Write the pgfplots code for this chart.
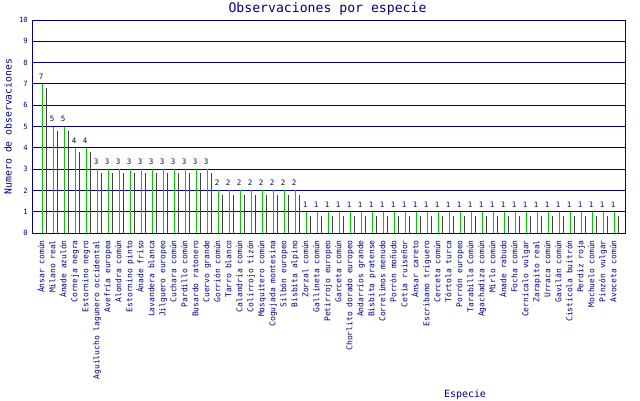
\documentclass[border=0pt]{standalone}
\usepackage{fontspec}
\setmonofont{DejaVu Sans Mono}
\usepackage{pgfplots}
\pgfplotsset{compat=1.18}
\definecolor{navy}{RGB}{0,0,128}
\definecolor{bargreen}{RGB}{0,204,0}
\definecolor{shadow}{RGB}{64,64,64}
\begin{document}
\begin{tikzpicture}[x=1bp,y=1bp]
\path[use as bounding box] (0,0) rectangle (640,400);
\begin{axis}[
  at={(32bp,167bp)}, anchor=south west,
  scale only axis, width=593bp, height=213bp,
  xmin=-0.94, xmax=52.97, ymin=0, ymax=10,
  ytick={0,1,2,3,4,5,6,7,8,9,10},
  xtick={0,...,52},
  xticklabels={Ánsar común,Milano real,Ánade azulón,Corneja negra,Estornino negro,Aguilucho lagunero occidental,Avefría europea,Alondra común,Estornino pinto,Ánade friso,Lavandera blanca,Jilguero europeo,Cuchara común,Pardillo común,Busardo ratonero,Cuervo grande,Gorrión común,Tarro blanco,Calandria común,Colirrojo tizón,Mosquitero común,Cogujada montesina,Silbón europeo,Bisbita alpino,Zorzal común,Gallineta común,Petirrojo europeo,Garceta común,Chorlito dorado europeo,Andarríos grande,Bisbita pratense,Correlimos menudo,Porrón moñudo,Cetia ruiseñor,Ánsar careto,Escribano triguero,Cerceta común,Tórtola turca,Porrón europeo,Tarabilla Común,Agachadiza común,Mirlo común,Ánade rabudo,Focha común,Cernícalo vulgar,Zarapito real,Urraca común,Gavilán común,Cistícola buitrón,Perdiz roja,Mochuelo común,Pinzón vulgar,Avoceta común},
  major tick length=0pt,
  axis line style={navy, line width=0.9bp},
  ymajorgrids, grid style={navy, line width=0.9bp},
  /pgf/number format/assume math mode=true,
  yticklabel style={font=\ttfamily\fontsize{7.2}{8}\selectfont, text=navy, anchor=east, inner sep=0pt},
  yticklabel shift=4bp,
  xticklabel style={font=\ttfamily\fontsize{8}{9}\selectfont, text=navy, rotate=90, anchor=mid east, inner sep=0pt},
  xticklabel shift=7bp,
  clip=true,
]
\addplot[ycomb, shadow, line width=1bp, mark=none, xshift=4bp, yshift=-4.3bp] coordinates {
(0,7)(1,5)(2,5)(3,4)(4,4)(5,3)(6,3)(7,3)(8,3)(9,3)(10,3)(11,3)(12,3)(13,3)(14,3)(15,3)
(16,2)(17,2)(18,2)(19,2)(20,2)(21,2)(22,2)(23,2)
(24,1)(25,1)(26,1)(27,1)(28,1)(29,1)(30,1)(31,1)(32,1)(33,1)(34,1)(35,1)(36,1)(37,1)(38,1)(39,1)(40,1)(41,1)(42,1)(43,1)(44,1)(45,1)(46,1)(47,1)(48,1)(49,1)(50,1)(51,1)(52,1)};
\addplot[ycomb, bargreen, line width=1bp, mark=none,
  nodes near coords,
  every node near coord/.append style={font=\ttfamily\fontsize{7.5}{8}\selectfont, text=navy, anchor=south, inner sep=0pt, yshift=4bp, xshift=-1.2bp}] coordinates {
(0,7)(1,5)(2,5)(3,4)(4,4)(5,3)(6,3)(7,3)(8,3)(9,3)(10,3)(11,3)(12,3)(13,3)(14,3)(15,3)
(16,2)(17,2)(18,2)(19,2)(20,2)(21,2)(22,2)(23,2)
(24,1)(25,1)(26,1)(27,1)(28,1)(29,1)(30,1)(31,1)(32,1)(33,1)(34,1)(35,1)(36,1)(37,1)(38,1)(39,1)(40,1)(41,1)(42,1)(43,1)(44,1)(45,1)(46,1)(47,1)(48,1)(49,1)(50,1)(51,1)(52,1)};
\end{axis}
\node[font=\ttfamily\fontsize{13.2}{14}\selectfont, text=navy, inner sep=0pt] at (327.5,391.5) {Observaciones por especie};
\node[font=\ttfamily\fontsize{9.8}{11}\selectfont, text=navy, inner sep=0pt, rotate=90] at (8,273.5) {Numero de observaciones};
\node[font=\ttfamily\fontsize{10}{11}\selectfont, text=navy, inner sep=0pt] at (465,5) {Especie};
\end{tikzpicture}
\end{document}
